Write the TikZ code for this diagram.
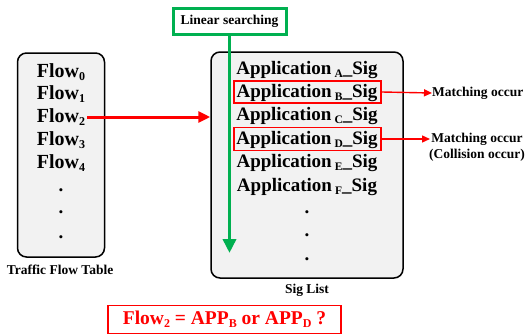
\documentclass[tikz,border=0pt]{standalone}
\usepackage{fontspec}
\setmainfont{Liberation Serif}
\usetikzlibrary{arrows.meta}
\definecolor{boxgray}{HTML}{F2F2F2}
\definecolor{grn}{HTML}{00B050}
\definecolor{rd}{HTML}{FF0000}
\newcommand{\fsub}[1]{\raisebox{-0.3ex}{\fontsize{12}{12}\selectfont #1}}
\newcommand{\asig}[1]{Application\,\raisebox{-0.3ex}{\fontsize{11.5}{11.5}\selectfont #1}\_Sig}
\begin{document}
\begin{tikzpicture}[x=1pt,y=-1pt,
  tablebox/.style={draw=black, line width=1.5pt, fill=boxgray, rounded corners=9pt, inner sep=0pt},
  flowtxt/.style={font=\fontsize{20}{20}\selectfont\bfseries, inner sep=0pt},
  apptxt/.style={font=\fontsize{19}{19}\selectfont\bfseries, inner sep=0pt},
  dottxt/.style={font=\fontsize{19}{19}\selectfont\bfseries, inner sep=0pt},
  captxt/.style={font=\fontsize{13.5}{15}\selectfont\bfseries, inner sep=0pt},
  hitbox/.style={draw=rd, line width=1.8pt, inner sep=0pt},
  smallarrow/.style={draw=rd, line width=1.4pt, -{Triangle[width=7pt,length=8pt]}},
  mtxt/.style={font=\fontsize{13.5}{16}\selectfont\bfseries, inner sep=0pt, align=center}
]
\useasboundingbox (0,0) rectangle (528,335);

% left table
\node[tablebox, minimum width=87pt, minimum height=204pt] (ftab) at (61,155) {};
\node[flowtxt] (f0) at (61,72) {Flow\fsub{0}};
\node[flowtxt] (f1) at (61,94) {Flow\fsub{1}};
\node[flowtxt] (f2) at (61,117) {Flow\fsub{2}};
\node[flowtxt] (f3) at (61,140) {Flow\fsub{3}};
\node[flowtxt] (f4) at (61,163) {Flow\fsub{4}};
\node[dottxt] (fd1) at (61,190) {.};
\node[dottxt] (fd2) at (61,212) {.};
\node[dottxt] (fd3) at (61,237) {.};
\node[captxt] (ftabcap) at (60,270) {Traffic Flow Table};

% right list
\node[tablebox, minimum width=192pt, minimum height=226pt] (slist) at (307,165) {};
\node[apptxt] (aA) at (307,70) {\asig{A}};
\node[apptxt] (aB) at (307,93) {\asig{B}};
\node[apptxt] (aC) at (307,116) {\asig{C}};
\node[apptxt] (aD) at (307,140) {\asig{D}};
\node[apptxt] (aE) at (307,163) {\asig{E}};
\node[apptxt] (aF) at (307,187) {\asig{F}};
\node[dottxt] (sd1) at (307,212) {.};
\node[dottxt] (sd2) at (307,235) {.};
\node[dottxt] (sd3) at (307,259) {.};
\node[captxt] (slistcap) at (307,290) {Sig List};

% hit boxes
\node[hitbox, minimum width=147pt, minimum height=22pt] (hB) at (307.5,92) {};
\node[hitbox, minimum width=147pt, minimum height=23pt] (hD) at (307.5,139) {};

% linear searching
\node[draw=grn, line width=3pt, fill=white, minimum width=113pt, minimum height=26pt,
      font=\fontsize{13.5}{15}\selectfont\bfseries] (ls) at (229.5,21) {Linear searching};
\coordinate (lsend) at (229.5,253);
\draw[grn, line width=3.5pt, -{Triangle[width=13pt,length=14pt]}] (ls.south) -- (lsend);

% flow2 arrow
\coordinate (f2start) at (87,117);
\draw[rd, line width=3pt, -{Triangle[width=11pt,length=12pt]}] (f2start) -- (f2start -| slist.west);

% matching labels
\node[mtxt, anchor=west] (m1) at (432,93) {Matching occur};
\node[mtxt] (m2) at (477,147) {Matching occur\\(Collision occur)};
\draw[smallarrow] (hB.east) -- (m1.west);
\coordinate (m2a) at (430,139);
\draw[smallarrow] (hD.east) -- (m2a);

% question
\node[draw=rd, line width=1.5pt, minimum width=233pt, minimum height=28pt, text=rd,
      font=\fontsize{19.5}{21}\selectfont\bfseries] (q) at (224.5,319.5)
  {Flow\raisebox{-0.3ex}{\fontsize{12}{12}\selectfont 2} = APP\raisebox{-0.3ex}{\fontsize{12}{12}\selectfont B} or APP\raisebox{-0.3ex}{\fontsize{12}{12}\selectfont D} ?};
\end{tikzpicture}
\end{document}
